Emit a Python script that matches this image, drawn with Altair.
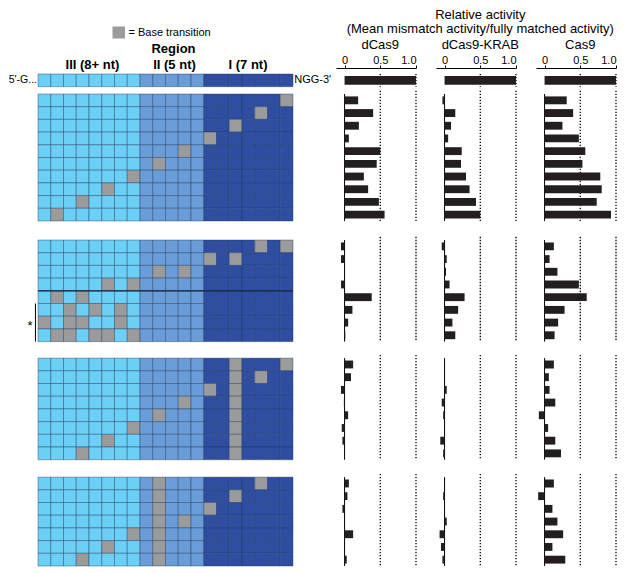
import altair as alt
import pandas as pd

# ---------------- data ----------------
region_names = ["III", "II", "I"]
region_sizes = [8, 5, 7]
region_titles = ["III (8+ nt)", "II (5 nt)", "I (7 nt)"]
region_colors = ["#6ccff6", "#6a9cd8", "#2f4ea2"]
mismatch_color = "#9b9b9b"

# mismatched positions (1-based columns, left = 5' end) for every guide row
block1_mm = [[20], [18], [16], [14], [12], [10], [8], [6], [4], [2]]
block2_mm = [[18, 20], [14, 16], [10, 12], [6, 8], [2, 4], [3, 5, 7], [1, 3, 4, 7], [2, 3, 5, 6, 8]]
block3_mm = [[16, 20], [16, 18], [14, 16], [12, 16], [10, 16], [8, 16], [6, 16], [4, 16]]
block4_mm = [[10, 18], [10, 16], [10, 14], [10, 12], [8, 10], [6, 10], [4, 10]]
blocks_mm = [block1_mm, block2_mm, block3_mm, block4_mm]

panel_names = ["dCas9", "dCas9-KRAB", "Cas9"]
guide_activity = [1.0, 1.0, 1.0]

dcas9_b1 = [0.19, 0.40, 0.20, 0.06, 0.50, 0.45, 0.27, 0.33, 0.48, 0.56]
dcas9_b2 = [-0.05, -0.05, 0.0, -0.05, 0.38, 0.11, 0.05, 0.01]
dcas9_b3 = [0.12, 0.09, -0.05, -0.01, 0.05, -0.04, -0.03, 0.0]
dcas9_b4 = [0.06, 0.04, -0.03, 0.0, 0.12, 0.0, 0.03]

krab_b1 = [-0.03, 0.15, 0.09, 0.05, 0.24, 0.23, 0.30, 0.35, 0.44, 0.50]
krab_b2 = [-0.04, 0.03, 0.02, 0.07, 0.28, 0.19, 0.11, 0.15]
krab_b3 = [0.0, 0.0, 0.03, -0.04, -0.02, 0.0, -0.06, -0.02]
krab_b4 = [0.0, -0.02, 0.005, 0.03, -0.07, -0.05, -0.03]

cas9_b1 = [0.31, 0.40, 0.25, 0.48, 0.57, 0.53, 0.78, 0.80, 0.73, 0.93]
cas9_b2 = [0.13, 0.07, 0.18, 0.48, 0.59, 0.28, 0.19, 0.14]
cas9_b3 = [0.13, 0.06, 0.07, 0.15, -0.08, 0.05, 0.15, 0.23]
cas9_b4 = [0.13, -0.09, 0.11, 0.18, 0.26, 0.11, 0.29]

panel_values = [
    [dcas9_b1, dcas9_b2, dcas9_b3, dcas9_b4],
    [krab_b1, krab_b2, krab_b3, krab_b4],
    [cas9_b1, cas9_b2, cas9_b3, cas9_b4],
]
axis_ticks = [0, 0.5, 1.0]

# ---------------- layout ----------------
FONT = "Liberation Sans"
RH = 12.7          # px per row
CELL = 12.75       # px per grid column
GUIDE_TOP_PX = 64  # room above the guide row inside the plot area
GRID_LEFT_PX = 27  # room left of the grid
GRID_W = 325
BAR_W = 80
BAR_GAP = 20
gaps = [0.575, 1.5, 1.3, 1.37]

block_tops = []
_y = 1.0
for i, blk in enumerate(blocks_mm):
    _y += gaps[i]
    block_tops.append(_y)
    _y += len(blk)
YMAX = _y
YMIN = -GUIDE_TOP_PX / RH
HEIGHT = round((YMAX - YMIN) * RH)
GX_MIN = -GRID_LEFT_PX / CELL
GX_MAX = GX_MIN + GRID_W / CELL


def prow(page_y):
    """row units from a page pixel position (annotation placement)"""
    return (page_y - 72) / RH


def pcol(page_x):
    return (page_x - 35) / CELL


ysc = alt.Scale(domain=[YMIN, YMAX], reverse=True, nice=False, zero=False)
gxsc = alt.Scale(domain=[GX_MIN, GX_MAX], nice=False, zero=False)
bxsc = alt.Scale(domain=[-0.12, 1.0], nice=False, zero=False)

# ---------------- grid panel ----------------
col_region = []
for name, n in zip(region_names, region_sizes):
    col_region += [name] * n
n_cols = len(col_region)

cells = []


def add_row(top, mm):
    for c in range(1, n_cols + 1):
        cells.append(dict(x0=c - 1, x1=c, y0=top, y1=top + 1,
                          kind="mm" if c in mm else col_region[c - 1]))


add_row(0.0, [])
for b, blk in enumerate(blocks_mm):
    for r, mm in enumerate(blk):
        add_row(block_tops[b] + r, mm)
cells_df = pd.DataFrame(cells)

gX = lambda f: alt.X(f, scale=gxsc, axis=None)
gY = lambda f: alt.Y(f, scale=ysc, axis=None)

cell_layer = alt.Chart(cells_df).mark_rect(
    stroke="#1c355f", strokeWidth=0.55, strokeOpacity=0.75
).encode(
    x=gX("x0:Q"), x2="x1", y=gY("y0:Q"), y2="y1",
    color=alt.Color("kind:N", scale=alt.Scale(domain=region_names + ["mm"],
                                               range=region_colors + [mismatch_color]),
                    legend=None),
)

# separator inside block 2 (between rows 4 and 5)
sep_df = pd.DataFrame([dict(x0=0, x1=n_cols, y=block_tops[1] + 4)])
sep_layer = alt.Chart(sep_df).mark_rule(color="#15243c", strokeWidth=1.3).encode(
    x=gX("x0:Q"), x2="x1", y=gY("y:Q"))

# bracket + asterisk for rows 6-8 of block 2
br_df = pd.DataFrame([dict(x=-0.2, y0=block_tops[1] + 5, y1=block_tops[1] + 8)])
br_layer = alt.Chart(br_df).mark_rule(color="black", strokeWidth=1).encode(
    x=gX("x:Q"), y=gY("y0:Q"), y2="y1")
star_df = pd.DataFrame([dict(x=-0.62, y=block_tops[1] + 6.75, t="*")])
star_layer = alt.Chart(star_df).mark_text(font=FONT, fontSize=13, baseline="middle").encode(
    x=gX("x:Q"), y=gY("y:Q"), text="t")

# legend swatch
sw_df = pd.DataFrame([dict(x0=pcol(109.5), x1=pcol(122), y0=prow(24.5), y1=prow(36.5))])
sw_layer = alt.Chart(sw_df).mark_rect(color=mismatch_color).encode(
    x=gX("x0:Q"), x2="x1", y=gY("y0:Q"), y2="y1")

norm_txt = pd.DataFrame([
    dict(x=pcol(125.5), y=prow(34.5), t="= Base transition"),
])
txt_left = alt.Chart(norm_txt).mark_text(font=FONT, align="left", baseline="alphabetic", fontSize=11).encode(
    x=gX("x:Q"), y=gY("y:Q"), text="t")

seq_df = pd.DataFrame([dict(x=-0.08, y=0.5, t="5'-G...")])
seq_left = alt.Chart(seq_df).mark_text(font=FONT, align="right", baseline="middle", fontSize=10.5).encode(
    x=gX("x:Q"), y=gY("y:Q"), text="t")
seq2_df = pd.DataFrame([dict(x=n_cols + 0.1, y=0.5, t="NGG-3'")])
seq_right = alt.Chart(seq2_df).mark_text(font=FONT, align="left", baseline="middle", fontSize=11).encode(
    x=gX("x:Q"), y=gY("y:Q"), text="t")

bold_df = pd.DataFrame(
    [dict(x=pcol(170.5), y=prow(51), t="Region")]
    + [dict(x=pcol(cx), y=prow(67.5), t=t) for cx, t in zip([89.5, 171.5, 245], region_titles)]
)
bold_layer = alt.Chart(bold_df).mark_text(font=FONT, fontWeight="bold", fontSize=13,
                                          align="center", baseline="alphabetic").encode(
    x=gX("x:Q"), y=gY("y:Q"), text="t")

grid_panel = alt.layer(cell_layer, sep_layer, br_layer, star_layer, sw_layer,
                       txt_left, seq_left, seq_right, bold_layer).properties(
    width=GRID_W, height=HEIGHT)

# ---------------- bar panels ----------------
bx_axis = alt.Axis(orient="top", values=axis_ticks, offset=-(GUIDE_TOP_PX - 6), tickSize=3,
                   labelPadding=0, title=None, grid=False, domainColor="black", tickColor="black",
                   domainWidth=1, tickWidth=1, labelFont=FONT, labelFontSize=11,
                   labelColor="black", labelAngle=0,
                   labelExpr="datum.value == 0 ? '0' : format(datum.value, '.1f')")
bX = lambda f: alt.X(f, scale=bxsc, axis=bx_axis)


def bar_panel(idx):
    vals = panel_values[idx]
    bars = [dict(y0=0.15, y1=0.85, v=guide_activity[idx], z=0.0)]
    zero = []
    dots = [dict(x=0.5, y0=0.0, y1=1.0), dict(x=1.0, y0=0.0, y1=1.0)]
    for b, bv in enumerate(vals):
        top = block_tops[b]
        for r, v in enumerate(bv):
            bars.append(dict(y0=top + r + 0.19, y1=top + r + 0.81, v=v, z=0.0))
        zero.append(dict(x=0.0, y0=top, y1=top + len(bv)))
        for xv in (0.5, 1.0):
            dots.append(dict(x=xv, y0=top - 0.25, y1=top + len(bv)))
    dots_layer = alt.Chart(pd.DataFrame(dots)).mark_rule(
        color="black", strokeWidth=1.3, strokeDash=[1.3, 1.7]).encode(
        x=bX("x:Q"), y=alt.Y("y0:Q", scale=ysc, axis=None), y2="y1")
    zero_layer = alt.Chart(pd.DataFrame(zero)).mark_rule(color="black", strokeWidth=1).encode(
        x=bX("x:Q"), y=alt.Y("y0:Q", scale=ysc, axis=None), y2="y1")
    bar_layer = alt.Chart(pd.DataFrame(bars)).mark_rect(color="#231f20").encode(
        x=bX("v:Q"), x2="z", y=alt.Y("y0:Q", scale=ysc, axis=None), y2="y1")
    texts = [dict(x=0.5, y=prow(47.5), t=panel_names[idx], fs=13)]
    if idx == 1:
        texts.append(dict(x=0.5, y=prow(17), t="Relative activity", fs=13))
        texts.append(dict(x=0.5, y=prow(31), t="(Mean mismatch activity/fully matched activity)", fs=13))
    text_layer = alt.Chart(pd.DataFrame(texts)).mark_text(
        font=FONT, align="center", baseline="alphabetic", color="black").encode(
        x=bX("x:Q"), y=alt.Y("y:Q", scale=ysc, axis=None), text="t",
        size=alt.Size("fs:Q", scale=None, legend=None))
    return alt.layer(dots_layer, zero_layer, bar_layer, text_layer).properties(
        width=BAR_W, height=HEIGHT)


bars_row = alt.hconcat(*[bar_panel(i) for i in range(3)], spacing=BAR_GAP, bounds="flush")

chart = alt.hconcat(grid_panel, bars_row, spacing=0, bounds="flush").configure_view(
    stroke=None).properties(padding=0)

chart.save("out.html", embed_options={"renderer": "svg", "actions": False})
